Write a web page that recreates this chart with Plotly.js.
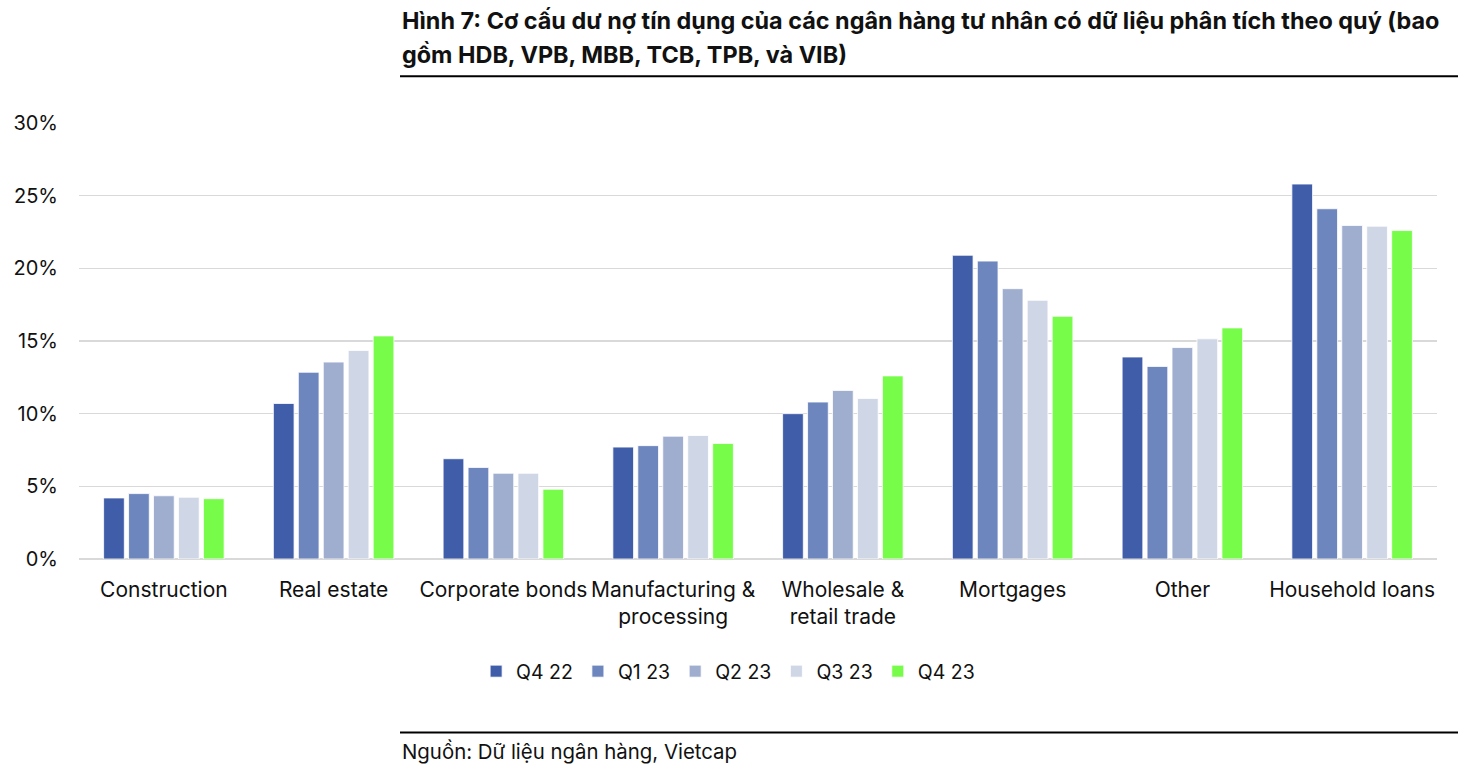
<!DOCTYPE html>
<html>
<head>
<meta charset="utf-8">
<script src="https://cdn.plot.ly/plotly-3.0.1.min.js"></script>
<style>html,body{margin:0;padding:0;background:#fff;}#chart{width:1466px;height:780px;}</style>
</head>
<body>
<div id="chart"></div>
<script>
const categories = ["Construction", "Real estate", "Corporate bonds", "Manufacturing &<br>processing", "Wholesale &<br>retail trade", "Mortgages", "Other", "Household loans"];
const seriesNames = ["Q4 22", "Q1 23", "Q2 23", "Q3 23", "Q4 23"];
const q4_22 = [4.2, 10.7, 6.9, 7.7, 10.0, 20.9, 13.9, 25.8];
const q1_23 = [4.5, 12.85, 6.3, 7.8, 10.8, 20.5, 13.25, 24.1];
const q2_23 = [4.35, 13.55, 5.9, 8.45, 11.6, 18.6, 14.55, 22.95];
const q3_23 = [4.25, 14.35, 5.9, 8.5, 11.05, 17.8, 15.15, 22.9];
const q4_23 = [4.15, 15.35, 4.8, 7.95, 12.6, 16.7, 15.9, 22.6];
const yTicks = [0, 5, 10, 15, 20, 25, 30];
const yTickLabels = ["0%", "5%", "10%", "15%", "20%", "25%", "30%"];
const colors = ["#3F5DA8", "#6E86BE", "#9FADCF", "#CFD7E6", "#77FC4A"];
const allSeries = [q4_22, q1_23, q2_23, q3_23, q4_23];

const font = "Inter, 'Noto Sans', sans-serif";
const traces = allSeries.map((vals, i) => ({
  type: "bar",
  name: seriesNames[i],
  x: categories,
  y: vals,
  marker: {color: colors[i], line: {color: "#ffffff", width: 0.8}},
  hoverinfo: "skip"
}));

const left = (400-79)/1358, right = (1458-79)/1358;
const layout = {
  width: 1466, height: 780,
  margin: {l: 79, r: 29, t: 122.7, b: 220.7},
  paper_bgcolor: "#fff", plot_bgcolor: "#fff",
  barmode: "group", bargap: 0.265, bargroupgap: 0.17,
  font: {family: font, color: "#111", size: 19},
  showlegend: true,
  legend: {orientation: "h", x: 0.478, xanchor: "center", y: -0.258, yanchor: "middle",
    font: {size: 19.5, color: "#111"}, itemwidth: 30, traceorder: "normal"},
  xaxis: {tickfont: {size: 21, color: "#111"}, showgrid: false, showline: false, ticks: "", ticklabelstandoff: 16, fixedrange: true},
  yaxis: {range: [0, 30], tickvals: yTicks, ticktext: yTickLabels, tickfont: {size: 20, color: "#111"},
    gridcolor: "#d9d9d9", gridwidth: 1.5, zeroline: true, zerolinecolor: "#d9d9d9", zerolinewidth: 1.5,
    showline: false, ticks: "", ticklabelstandoff: 20, fixedrange: true},
  annotations: [
    {xref: "paper", yref: "paper", x: left, y: 1.235, xanchor: "left", yanchor: "middle", showarrow: false,
     text: "<b>Hình 7: Cơ cấu dư nợ tín dụng của các ngân hàng tư nhân có dữ liệu phân tích theo quý (bao</b>",
     font: {size: 23.4, color: "#111", family: font}},
    {xref: "paper", yref: "paper", x: left, y: 1.1568, xanchor: "left", yanchor: "middle", showarrow: false,
     text: "<b>gồm HDB, VPB, MBB, TCB, TPB, và VIB)</b>",
     font: {size: 23.4, color: "#111", family: font}},
    {xref: "paper", yref: "paper", x: left, y: -0.4413, xanchor: "left", yanchor: "middle", showarrow: false,
     text: "Nguồn: Dữ liệu ngân hàng, Vietcap",
     font: {size: 20.4, color: "#111", family: font}}
  ],
  shapes: [
    {type: "line", xref: "paper", yref: "paper", x0: left, x1: right, y0: 1.107, y1: 1.107, line: {color: "#000", width: 2}},
    {type: "line", xref: "paper", yref: "paper", x0: left, x1: right, y0: -0.398, y1: -0.398, line: {color: "#000", width: 2}}
  ]
};
Plotly.newPlot("chart", traces, layout, {displayModeBar: false, staticPlot: true});
</script>
</body>
</html>
